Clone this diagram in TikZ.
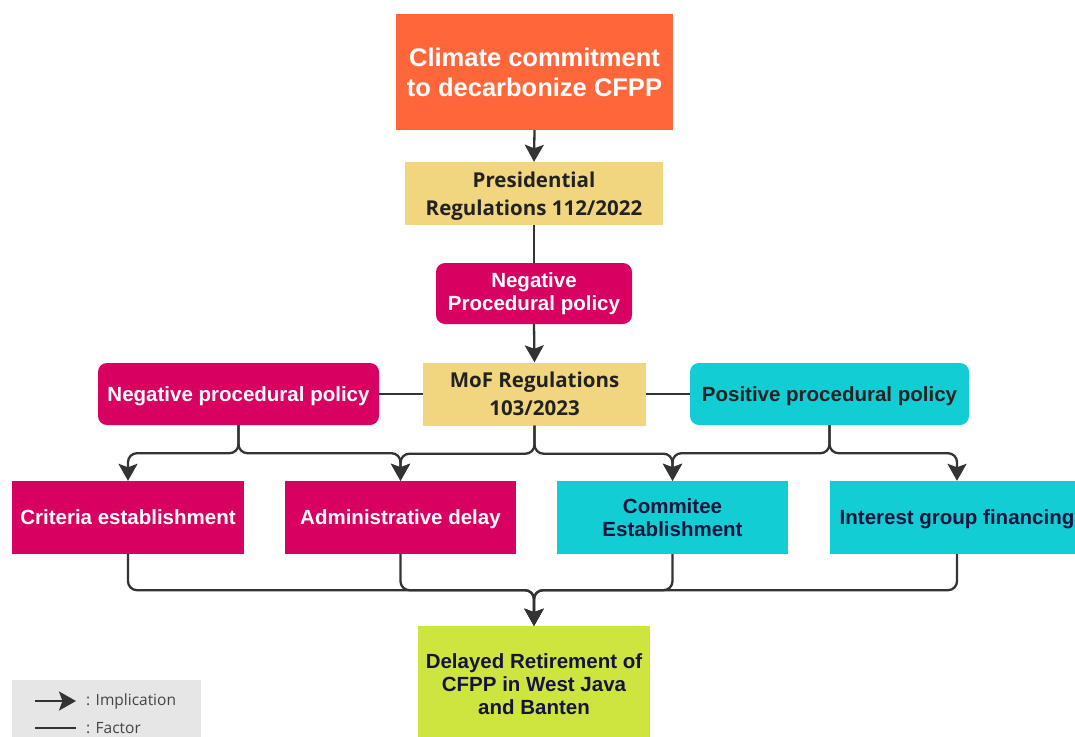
\documentclass[tikz,border=0pt]{standalone}
\usepackage{fontspec}
\setmainfont{Liberation Sans}
\newfontfamily\opensans{Open Sans}
\usetikzlibrary{arrows.meta}
\definecolor{cOrange}{HTML}{FF673B}
\definecolor{cYellow}{HTML}{F1D57F}
\definecolor{cMag}{HTML}{D80060}
\definecolor{cCyan}{HTML}{13CDD4}
\definecolor{cLime}{HTML}{CFE53F}
\definecolor{cLine}{HTML}{333333}
\definecolor{cNavy}{HTML}{14143C}
\definecolor{cDark}{HTML}{222222}
\definecolor{cLeg}{HTML}{E6E6E6}
\definecolor{cLegTxt}{HTML}{444444}
\tikzset{
  box/.style={inner sep=0pt, align=center, font=\fontsize{20.5}{23}\selectfont\bfseries},
  sline/.style={text height=18.7pt, text depth=4pt},
  orangebox/.style={box, fill=cOrange, text=white, font=\fontsize{25.5}{30}\selectfont\bfseries},
  yellowbox/.style={box, fill=cYellow, text=cDark, text depth=0pt, font=\opensans\fontsize{20.5}{28}\selectfont\bfseries},
  magbox/.style={box, fill=cMag, text=white},
  cyanbox/.style={box, fill=cCyan, text=cNavy},
  limebox/.style={box, fill=cLime, text=cNavy},
  rbox/.style={rounded corners=9pt},
  conn/.style={draw=cLine, line width=2.3pt, rounded corners=9pt},
  tip/.style={-{Stealth[length=17pt,width=19pt,inset=3.5pt]}},
  arr/.style={conn, tip},
  legtxt/.style={anchor=west, inner sep=0pt, text=cLegTxt, font=\opensans\fontsize{15.5}{18}\selectfont}
}
\begin{document}
\begin{tikzpicture}[x=1pt,y=-1pt]
\path[use as bounding box] (0,0) rectangle (1075,736);
\clip (0,0) rectangle (1075,736);
\fill[white] (0,0) rectangle (1075,736);

\node[orangebox, minimum width=277pt, minimum height=116pt] (top) at (534.5,72) {Climate commitment\\to decarbonize CFPP};
\node[yellowbox, minimum width=258pt, minimum height=63pt] (pres) at (534,193.5) {Presidential\\Regulations 112/2022};
\node[magbox, rbox, minimum width=196pt, minimum height=61pt] (negp) at (534,293.5) {Negative\\Procedural policy};
\node[yellowbox, minimum width=223pt, minimum height=63pt] (mof) at (534.5,394) {MoF Regulations\\103/2023};
\node[magbox, sline, rbox, minimum width=281pt, minimum height=62pt] (negl) at (238.5,394) {Negative procedural policy};
\node[cyanbox, sline, rbox, text=cDark, minimum width=279pt, minimum height=62pt] (pos) at (829.5,394) {Positive procedural policy};

\node[magbox, sline, minimum width=232pt, minimum height=73pt] (crit) at (128,517.5) {Criteria establishment};
\node[magbox, sline, minimum width=231pt, minimum height=73pt] (adm) at (400.5,517.5) {Administrative delay};
\node[cyanbox, minimum width=231pt, minimum height=73pt] (com) at (672.5,517.5) {Commitee\\Establishment};
\node[cyanbox, sline, minimum width=254pt, minimum height=73pt] (int) at (957,517.5) {Interest group financing};

\node[limebox, minimum width=232pt, minimum height=116pt] (del) at (534,684) {Delayed Retirement of\\CFPP in West Java\\and Banten};

% connectors
\draw[arr] (top.south) -- (pres.north);
\draw[conn] (pres.south) -- (negp.north);
\draw[arr] (negp.south) -- (mof.north);
\draw[conn] (negl.east) -- (mof.west);
\draw[conn] (mof.east) -- (pos.west);

\draw[arr] (negl.south) -- ++(0,28) -| (crit.north);
\draw[arr] (negl.south) -- ++(0,28) -| (adm.north);
\draw[arr] (mof.south) -- ++(0,28) -| (adm.north);
\draw[arr] (mof.south) -- ++(0,28) -| (com.north);
\draw[arr] (pos.south) -- ++(0,28) -| (com.north);
\draw[arr] (pos.south) -- ++(0,28) -| (int.north);

\draw[arr] (crit.south) -- ++(0,36) -| (del.north);
\draw[arr] (adm.south) -- ++(0,36) -| (del.north);
\draw[arr] (com.south) -- ++(0,36) -| (del.north);
\draw[arr] (int.south) -- ++(0,36) -| (del.north);

% legend
\fill[cLeg] (12,680) rectangle (201,745);
\coordinate (la1) at (35,701);
\coordinate (la2) at (76,701);
\coordinate (lf1) at (35,728);
\coordinate (lf2) at (76,728);
\draw[draw=cLine, line width=2.3pt, tip] (la1) -- (la2);
\draw[draw=cLine, line width=2.3pt] (lf1) -- (lf2);
\node[legtxt] (limp) at (86,701) {: Implication};
\node[legtxt] (lfac) at (86,728) {: Factor};
\end{tikzpicture}
\end{document}
